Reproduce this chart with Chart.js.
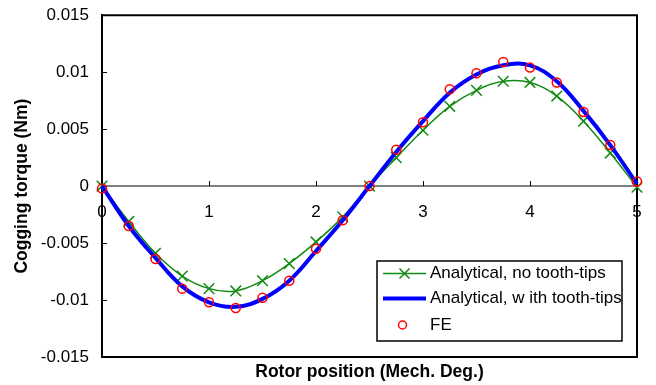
<!DOCTYPE html>
<html><head><meta charset="utf-8">
<script src="https://cdn.jsdelivr.net/npm/chart.js@4"></script>
<style>html,body{margin:0;padding:0;background:#fff}canvas{display:block}</style>
</head><body>
<canvas id="c" width="656" height="385"></canvas>
<script>
const positions = [0,0.25,0.5,0.75,1,1.25,1.5,1.75,2,2.25,2.5,2.75,3,3.25,3.5,3.75,4,4.25,4.5,4.75,5];
const noTipValues = [0.0000,-0.0031,-0.0059,-0.0079,-0.0090,-0.0092,-0.0083,-0.0068,-0.0049,-0.0027,0.0000,0.0025,0.0049,0.0070,0.0084,0.0092,0.0091,0.0079,0.0057,0.0029,-0.0001];
const withTipValues = [0.0000,-0.0035,-0.0063,-0.0088,-0.0102,-0.0106,-0.0099,-0.0083,-0.0057,-0.0030,0.0000,0.0030,0.0057,0.0082,0.0098,0.0106,0.0106,0.0092,0.0066,0.0036,0.0002];
const feValues = [-0.0002,-0.0035,-0.0064,-0.0090,-0.0102,-0.0107,-0.0098,-0.0083,-0.0055,-0.0030,0.0000,0.0032,0.0056,0.0085,0.0099,0.0109,0.0104,0.0091,0.0065,0.0036,0.0004];
const xTickLabels = ['0','1','2','3','4','5'];
const yTickLabels = ['-0.015','-0.01','-0.005','0','0.005','0.01','0.015'];
const seriesLabels = ['Analytical, no tooth-tips','Analytical, w ith tooth-tips','FE'];
const xTitle = 'Rotor position (Mech. Deg.)';
const yTitle = 'Cogging torque (Nm)';

const FONT = "'Liberation Sans', Arial, sans-serif";
const GREEN = '#138a13';
const BLUE = '#0000ff';
const RED = '#ff0000';
const toXY = vals => positions.map((x, i) => ({x: x, y: vals[i]}));

const framePlugin = {
  id: 'frame',
  beforeDatasetsDraw(chart) {
    const {ctx, chartArea: a, scales} = chart;
    ctx.save();
    ctx.strokeStyle = '#000';
    ctx.lineWidth = 2;
    ctx.beginPath();
    ctx.moveTo(a.left, a.top);
    ctx.lineTo(a.right, a.top);
    ctx.lineTo(a.right, a.bottom);
    ctx.stroke();
    ctx.lineWidth = 1;
    ctx.beginPath();
    const y0 = scales.y.getPixelForValue(0);
    scales.x2.ticks.forEach(t => {
      const px = Math.round(scales.x2.getPixelForValue(t.value)) + 0.5;
      ctx.moveTo(px, y0);
      ctx.lineTo(px, y0 - 5);
    });
    scales.y.ticks.forEach(t => {
      const py = Math.round(scales.y.getPixelForValue(t.value)) + 0.5;
      ctx.moveTo(a.left, py);
      ctx.lineTo(a.left + 5, py);
    });
    ctx.stroke();
    ctx.restore();
  }
};

const legendPlugin = {
  id: 'boxLegend',
  afterDraw(chart) {
    const ctx = chart.ctx;
    const bx = 377, by = 261, bw = 245, bh = 80;
    ctx.save();
    ctx.fillStyle = '#fff';
    ctx.fillRect(bx, by, bw, bh);
    ctx.strokeStyle = '#000';
    ctx.lineWidth = 1.5;
    ctx.strokeRect(bx, by, bw, bh);
    const rows = [273.5, 298.5, 325];
    const x1 = 383, x2 = 426, xm = 404.5;
    ctx.font = '17px ' + FONT;
    ctx.textBaseline = 'middle';
    ctx.fillStyle = '#000';
    chart.data.datasets.forEach((ds, i) => {
      const y = rows[i];
      if (ds.showLine !== false) {
        ctx.strokeStyle = ds.borderColor;
        ctx.lineWidth = ds.borderWidth;
        ctx.beginPath();
        ctx.moveTo(x1, y);
        ctx.lineTo(x2, y);
        ctx.stroke();
      }
      if (ds.pointRadius > 0) {
        ctx.strokeStyle = ds.pointBorderColor;
        ctx.lineWidth = ds.pointBorderWidth;
        ctx.beginPath();
        if (ds.pointStyle === 'crossRot') {
          const h = 5;
          ctx.moveTo(xm - h, y - h); ctx.lineTo(xm + h, y + h);
          ctx.moveTo(xm - h, y + h); ctx.lineTo(xm + h, y - h);
        } else {
          ctx.arc(xm - 2, y, 4, 0, Math.PI * 2);
        }
        ctx.stroke();
      }
      ctx.fillStyle = '#000';
      ctx.fillText(ds.label, 430, y);
    });
    ctx.restore();
  }
};

new Chart(document.getElementById('c'), {
  type: 'line',
  data: {
    datasets: [
      {label: seriesLabels[0], data: toXY(noTipValues), borderColor: GREEN, borderWidth: 1.5, tension: 0.4,
       pointStyle: 'crossRot', pointRadius: 7.5, pointBorderWidth: 1.5, pointBorderColor: GREEN,
       pointBackgroundColor: GREEN, order: 3, fill: false, clip: false},
      {label: seriesLabels[1], data: toXY(withTipValues), borderColor: BLUE, borderWidth: 4, tension: 0.4,
       pointRadius: 0, order: 2, fill: false, clip: false},
      {label: seriesLabels[2], data: toXY(feValues), showLine: false, pointStyle: 'circle', pointRadius: 4.5,
       pointBorderWidth: 1.5, pointBorderColor: RED, pointBackgroundColor: 'rgba(0,0,0,0)', order: 1, clip: false}
    ]
  },
  options: {
    responsive: false,
    animation: false,
    devicePixelRatio: 1,
    layout: {padding: {top: 14.5, right: 19, left: 0, bottom: 0}},
    plugins: {legend: {display: false}, tooltip: {enabled: false}},
    scales: {
      x: {type: 'linear', position: 'bottom', min: 0, max: 5,
          grid: {display: false}, ticks: {display: false},
          border: {display: true, color: '#000', width: 2},
          title: {display: true, text: xTitle, color: '#000', font: {family: FONT, size: 17.5, weight: 'bold'}, padding: {top: 0, bottom: 2}},
          afterFit(s) { s.height = 28; }},
      x2: {type: 'linear', axis: 'x', position: {y: 0}, min: 0, max: 5,
          grid: {display: false}, border: {color: '#808080', width: 2},
          ticks: {stepSize: 1, autoSkip: false, maxRotation: 0, color: '#000', font: {family: FONT, size: 17}, padding: 8,
                  callback: (v, i) => xTickLabels[i]}},
      y: {type: 'linear', position: 'left', min: -0.015, max: 0.015,
          grid: {display: false}, border: {color: '#000', width: 2},
          ticks: {stepSize: 0.005, autoSkip: false, color: '#000', font: {family: FONT, size: 17}, padding: 5,
                  callback: (v, i) => yTickLabels[i]},
          title: {display: true, text: yTitle, color: '#000', font: {family: FONT, size: 17.5, weight: 'bold'}, padding: {top: 12, bottom: 0}},
          afterFit(s) { s.width = 102; }}
    }
  },
  plugins: [framePlugin, legendPlugin]
});
</script>
</body></html>
